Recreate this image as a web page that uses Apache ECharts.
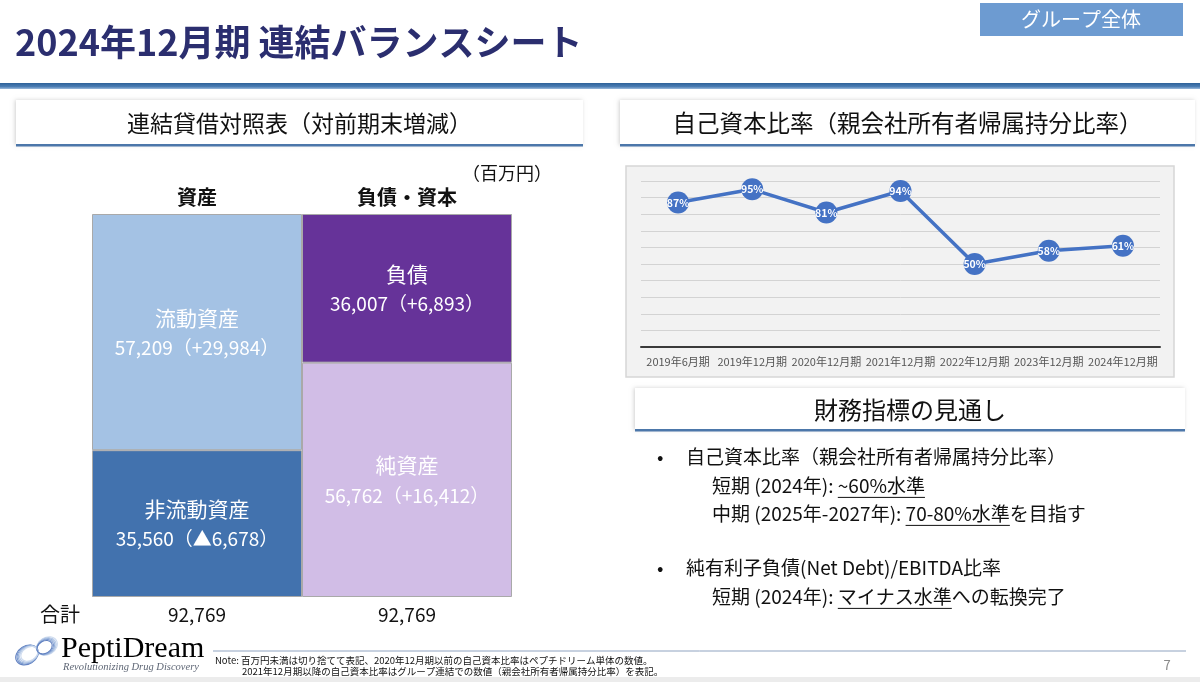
<!DOCTYPE html>
<html lang="ja">
<head>
<meta charset="utf-8">
<title>2024年12月期 連結バランスシート</title>
<script src="https://cdn.jsdelivr.net/npm/echarts@6/dist/echarts.min.js"></script>
<style>
    html, body { margin: 0; padding: 0; background: #fff; }
    #main { width: 1200px; height: 682px; }
</style>
</head>
<body>
<div id="main"></div>
<script>
// 連結貸借対照表（百万円）
var bsCategories = ['資産', '負債・資本'];
var bsTopNames = ['流動資産', '負債'];
var bsTopValues = [57209, 36007];
var bsTopChanges = [29984, 6893];
var bsBottomNames = ['非流動資産', '純資産'];
var bsBottomValues = [35560, 56762];
var bsBottomChanges = [-6678, 16412];

// 自己資本比率（%）
var ratioPeriods = ['2019年6月期', '2019年12月期', '2020年12月期', '2021年12月期', '2022年12月期', '2023年12月期', '2024年12月期'];
var ratioValues = [87, 95, 81, 94, 50, 58, 61];

var JP = '"Noto Sans CJK JP", "Noto Sans", sans-serif';
var SERIF = '"Liberation Serif", "DejaVu Serif", serif';

var measureCtx = document.createElement('canvas').getContext('2d');
function textWidth(str, size, family) {
    measureCtx.font = size + 'px ' + family;
    return measureCtx.measureText(str).width;
}
function num(v) {
    return v.toLocaleString('en-US');
}
function change(v) {
    return v >= 0 ? '+' + num(v) : '▲' + num(Math.abs(v));
}

//テキスト要素
function txt(x, y, s, size, opt) {
    opt = opt || {};
    var align = opt.align || 'left';
    return {
        type: 'text', x: x, y: y, z: 10,
        style: {
            text: s, fontSize: size, fontFamily: opt.family || JP,
            fontWeight: opt.weight || 'normal', fontStyle: opt.style || 'normal',
            fill: opt.color || '#111',
            align: align, textAlign: align,
            verticalAlign: 'middle', textVerticalAlign: 'middle'
        }
    };
}
//見出しボックス
function headBox(x, y, w, h, s, size) {
    return [
        { type: 'rect', shape: { x: x, y: y, width: w, height: h }, z: 1,
          style: { fill: '#fff', shadowBlur: 4, shadowColor: 'rgba(0,0,0,0.18)', shadowOffsetX: -1, shadowOffsetY: 0 } },
        { type: 'rect', shape: { x: x, y: y + h - 1, width: w, height: 2.5 }, z: 2, style: { fill: '#4c77aa' } },
        txt(x + w / 2, y + h / 2 + 1, s, size, { align: 'center' })
    ];
}
//下線付きの行
function segLine(x, y, segs, size) {
    var out = [], cx = x;
    segs.forEach(function (sg) {
        var w = textWidth(sg.t, size, JP);
        out.push(txt(cx, y, sg.t, size));
        if (sg.u) {
            out.push({ type: 'line', z: 10, shape: { x1: cx, y1: y + size * 0.6, x2: cx + w, y2: y + size * 0.6 },
                       style: { stroke: '#111', lineWidth: 1 } });
        }
        cx += w;
    });
    return out;
}

var assetsTotal = bsTopValues[0] + bsBottomValues[0];
var liabTotal = bsTopValues[1] + bsBottomValues[1];
var bsMax = Math.max(assetsTotal, liabTotal);

function bsLabel(names, changes) {
    return function (p) {
        return '{n|' + names[p.dataIndex] + '}\n{v|' + num(p.value) + '（' + change(changes[p.dataIndex]) + '）}';
    };
}
var bsRich = {
    n: { fontSize: 21, fontFamily: JP, color: '#fff', lineHeight: 31 },
    v: { fontSize: 19, fontFamily: JP, color: '#fff', lineHeight: 29 }
};

var graphic = [
    txt(15, 42, '2024年12月期 連結バランスシート', 36, { weight: 'bold', color: '#2b2e6f' }),
    { type: 'rect', shape: { x: 980, y: 3, width: 203, height: 33 }, style: { fill: '#6d9bd1' } },
    txt(1081, 19, 'グループ全体', 20, { align: 'center', color: '#fff' }),
    { type: 'rect', shape: { x: 0, y: 83, width: 1200, height: 6 },
      style: { fill: new echarts.graphic.LinearGradient(0, 0, 0, 1, [
          { offset: 0, color: '#2d6199' }, { offset: 0.6, color: '#4a7cb3' }, { offset: 1, color: '#9dbbdc' }]) } },
    txt(552, 173, '（百万円）', 18, { align: 'right' }),
    txt(40, 614, '合計', 20),
    // 自己資本比率チャートの背景
    { type: 'rect', z: -1, shape: { x: 626, y: 166, width: 548, height: 211 },
      style: { fill: '#f2f2f2', stroke: '#d6d6d6', lineWidth: 1.5 } },
    // 見通し
    txt(657, 457, '•', 19),
    txt(657, 568, '•', 19),
    // フッター
    { type: 'line', shape: { x1: 213, y1: 651, x2: 1186, y2: 651 }, style: { stroke: '#8fa3c0', lineWidth: 1 } },
    txt(215, 660, 'Note: 百万円未満は切り捨てて表記、2020年12月期以前の自己資本比率はペプチドリーム単体の数値。', 9.5),
    txt(242, 671, '2021年12月期以降の自己資本比率はグループ連結での数値（親会社所有者帰属持分比率）を表記。', 9.5),
    txt(1167, 665, '7', 13, { align: 'center', color: '#8a8a8a' }),
    { type: 'rect', shape: { x: 0, y: 677, width: 1200, height: 5 }, style: { fill: '#ececec' } },
    {
        type: 'text', x: 61, y: 649, z: 10,
        style: {
            text: '{a|Pepti}{b|D}{a|ream}', verticalAlign: 'middle', textVerticalAlign: 'middle',
            rich: {
                a: { fontSize: 30, fontFamily: SERIF, color: '#5d6b8a' },
                b: { fontSize: 30, fontFamily: SERIF, color: '#3f7fcc' }
            }
        }
    },
    txt(63, 667, 'Revolutionizing Drug Discovery', 10.5, { family: SERIF, style: 'italic', color: '#5e6675' })
];

// ロゴマーク（二つの輪）
[0, 1, 2, 3, 4].forEach(function (k) {
    var cols = ['#5f7fbf', '#7d9bd0', '#9ab4dc', '#b6c9e6', '#cfdcef'];
    graphic.push({ type: 'ellipse', x: 27 + k * 0.6, y: 655 - k * 0.3, rotation: 0.55,
                   shape: { cx: 0, cy: 0, rx: 12 - k * 0.7, ry: 9 - k * 0.6 },
                   style: { fill: 'none', stroke: cols[k], lineWidth: 1.1 } });
    graphic.push({ type: 'ellipse', x: 47 - k * 0.6, y: 646 + k * 0.3, rotation: 0.55,
                   shape: { cx: 0, cy: 0, rx: 11 - k * 0.7, ry: 8.5 - k * 0.6 },
                   style: { fill: 'none', stroke: cols[4 - k], lineWidth: 1.1 } });
});

graphic = graphic
    .concat(headBox(16, 100, 567, 45, '連結貸借対照表（対前期末増減）', 23))
    .concat(headBox(620, 100, 575, 45, '自己資本比率（親会社所有者帰属持分比率）', 23.5))
    .concat(headBox(635, 388, 550, 42, '財務指標の見通し', 24))
    .concat(segLine(686, 457, [{ t: '自己資本比率（親会社所有者帰属持分比率）' }], 19))
    .concat(segLine(712, 486, [{ t: '短期 (2024年): ' }, { t: '~60%水準', u: 1 }], 19))
    .concat(segLine(712, 514, [{ t: '中期 (2025年-2027年): ' }, { t: '70-80%水準', u: 1 }, { t: 'を目指す' }], 19))
    .concat(segLine(686, 568, [{ t: '純有利子負債(Net Debt)/EBITDA比率' }], 19))
    .concat(segLine(712, 597, [{ t: '短期 (2024年): ' }, { t: 'マイナス水準', u: 1 }, { t: 'への転換完了' }], 19));

var chart = echarts.init(document.getElementById('main'));
chart.setOption({
    animation: false,
    backgroundColor: '#fff',
    graphic: graphic,
    grid: [
        { left: 92, top: 214, width: 420, height: 383 },
        { left: 641, top: 181, width: 519, height: 166 }
    ],
    xAxis: [
        {
            type: 'category', gridIndex: 0, position: 'top', data: bsCategories,
            axisLine: { show: false }, axisTick: { show: false },
            axisLabel: { fontSize: 20, fontFamily: JP, fontWeight: 'bold', color: '#111', margin: 7 }
        },
        {
            type: 'category', gridIndex: 0, position: 'bottom', data: [num(assetsTotal), num(liabTotal)],
            axisLine: { show: false }, axisTick: { show: false },
            axisLabel: { fontSize: 19, fontFamily: JP, color: '#111', margin: 8 }
        },
        {
            type: 'category', gridIndex: 1, data: ratioPeriods, boundaryGap: true,
            axisLine: { lineStyle: { color: '#3a3a3a', width: 2 } }, axisTick: { show: false },
            axisLabel: { fontSize: 11, fontFamily: JP, color: '#555', margin: 9, interval: 0 },
            z: 5
        }
    ],
    yAxis: [
        { type: 'value', gridIndex: 0, min: 0, max: bsMax, show: false },
        {
            type: 'value', gridIndex: 1, min: 0, max: 100, interval: 10,
            axisLabel: { show: false }, axisLine: { show: false }, axisTick: { show: false },
            splitLine: { lineStyle: { color: '#d3d3d3', width: 1 } }
        }
    ],
    series: [
        {
            name: '下段', type: 'bar', stack: 'bs', xAxisIndex: 0, yAxisIndex: 0,
            barWidth: '100%',
            data: bsBottomValues.map(function (v, i) {
                return { value: v, itemStyle: { color: ['#4272ae', '#d1bde6'][i] } };
            }),
            itemStyle: { borderColor: '#a9a9a9', borderWidth: 1 },
            label: { show: true, position: 'inside', formatter: bsLabel(bsBottomNames, bsBottomChanges), rich: bsRich }
        },
        {
            name: '上段', type: 'bar', stack: 'bs', xAxisIndex: 0, yAxisIndex: 0,
            barWidth: '100%',
            data: bsTopValues.map(function (v, i) {
                return { value: v, itemStyle: { color: ['#a4c2e4', '#663399'][i] } };
            }),
            itemStyle: { borderColor: '#a9a9a9', borderWidth: 1 },
            label: { show: true, position: 'inside', formatter: bsLabel(bsTopNames, bsTopChanges), rich: bsRich }
        },
        {
            name: '自己資本比率', type: 'line', xAxisIndex: 2, yAxisIndex: 1,
            data: ratioValues,
            symbol: 'circle', symbolSize: 22,
            lineStyle: { color: '#4472c4', width: 3.5 },
            itemStyle: { color: '#4472c4' },
            label: {
                show: true, position: 'inside', formatter: '{c}%',
                color: '#fff', fontSize: 10.5, fontWeight: 'bold', fontFamily: JP
            },
            z: 6
        }
    ]
});
</script>
</body>
</html>
